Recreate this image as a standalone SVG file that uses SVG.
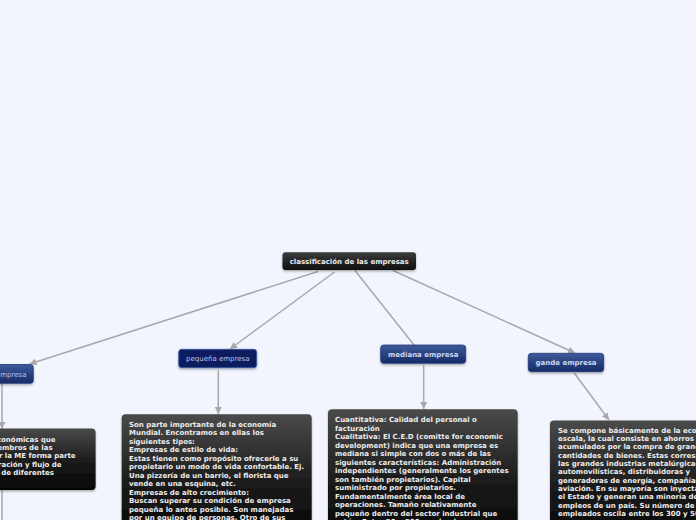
<svg xmlns="http://www.w3.org/2000/svg" width="696" height="520" viewBox="0 0 696 520">
<defs>
<linearGradient id="gDark" x1="0" y1="0" x2="0" y2="1">
<stop offset="0" stop-color="#4a4a4a"/>
<stop offset="0.55" stop-color="#1a1a1a"/>
<stop offset="1" stop-color="#050505"/>
</linearGradient>
<linearGradient id="gRoot" x1="0" y1="0" x2="0" y2="1">
<stop offset="0" stop-color="#3c3c3c"/>
<stop offset="1" stop-color="#0e0e0e"/>
</linearGradient>
<linearGradient id="gBlue" x1="0" y1="0" x2="0" y2="1">
<stop offset="0" stop-color="#3d5b9b"/>
<stop offset="1" stop-color="#172a66"/>
</linearGradient>
<marker id="arr" viewBox="0 0 10 10" refX="10" refY="5" markerWidth="7" markerHeight="7" markerUnits="userSpaceOnUse" orient="auto">
<path d="M0,0 L10,5 L0,10 z" fill="#a8a8a8"/>
</marker>
<filter id="sh" x="-10%" y="-10%" width="120%" height="140%">
<feDropShadow dx="0" dy="1.5" stdDeviation="1" flood-color="#000" flood-opacity="0.3"/>
</filter>
</defs>
<style>
.ln{stroke:#a8a8a8;stroke-width:1.5;fill:none}
.t{font-family:"DejaVu Sans","Verdana",sans-serif;font-size:7px;font-weight:bold;fill:#ececec}
.tb{font-family:"DejaVu Sans","Verdana",sans-serif;font-size:7px;font-weight:bold;fill:#cdd8ef;text-anchor:middle}
.tn{font-family:"DejaVu Sans","Verdana",sans-serif;font-size:7px;fill:#b4c3e8;text-anchor:middle}
.dark{fill:url(#gDark);filter:url(#sh)}
.blue{fill:url(#gBlue);stroke:#22387a;stroke-width:0.8;filter:url(#sh)}
</style>
<rect width="696" height="520" fill="#f2f5fd"/>
<g id="connectors">
<line class="ln" x1="318" y1="271.5" x2="29.5" y2="364" marker-end="url(#arr)"/>
<line class="ln" x1="334.5" y1="272" x2="230" y2="349" marker-end="url(#arr)"/>
<line class="ln" x1="355" y1="270.5" x2="414" y2="345"/>
<line class="ln" x1="393" y1="270.5" x2="575" y2="353" marker-end="url(#arr)"/>
<line class="ln" x1="2" y1="383.5" x2="2" y2="429" marker-end="url(#arr)"/>
<line class="ln" x1="2" y1="490" x2="2" y2="520"/>
<line class="ln" x1="218.3" y1="370.5" x2="218.3" y2="414" marker-end="url(#arr)"/>
<line class="ln" x1="423.7" y1="365" x2="423.7" y2="409" marker-end="url(#arr)"/>
<line class="ln" x1="574.3" y1="373" x2="609" y2="420" marker-end="url(#arr)"/>
</g>
<g id="root">
<rect x="282.5" y="252.3" width="133.5" height="17.8" rx="3" fill="url(#gRoot)" filter="url(#sh)"/>
<text class="t" x="349.2" y="263.6" text-anchor="middle">classificación de las empresas</text>
</g>
<g id="micro">
<rect class="blue" x="-60" y="364.5" width="93.3" height="18.8" rx="3"/>
<text class="tn" x="26.5" y="376.5" text-anchor="end" style="text-anchor:end">micro empresa</text>
</g>
<g id="pequena">
<rect x="178.7" y="349.3" width="78" height="18.4" rx="3" fill="#0d1f5e" stroke="#3a5aa8" stroke-width="0.8" filter="url(#sh)"/>
<text class="tn" x="217.8" y="361">pequeña empresa</text>
</g>
<g id="mediana">
<rect class="blue" x="380.7" y="345" width="85" height="18.3" rx="3"/>
<text class="tb" x="423.2" y="356.8">mediana empresa</text>
</g>
<g id="gande">
<rect class="blue" x="528.3" y="353.3" width="75.4" height="18.4" rx="3"/>
<text class="tb" x="566" y="365.2">gande empresa</text>
</g>
<g id="micro-desc">
<rect class="dark" x="-80" y="428.5" width="175.6" height="61.5" rx="4"/>
<text class="t" text-anchor="end">
<tspan x="58" y="441.6">conómicas que</tspan>
<tspan x="55" y="449.9">embros de las</tspan>
<tspan x="78" y="458.2">or la ME forma parte</tspan>
<tspan x="64" y="466.5">eración y flujo de</tspan>
<tspan x="54" y="474.8">de diferentes</tspan>
</text>
</g>
<g id="pequena-desc">
<rect class="dark" x="121.7" y="414.3" width="190" height="130" rx="4"/>
<text class="t">
<tspan x="129" y="427">Son parte importante de la economía</tspan>
<tspan x="129" y="435.45">Mundial. Encontramos en ellas los</tspan>
<tspan x="129" y="443.9">siguientes tipos:</tspan>
<tspan x="129" y="452.35">Empresas de estilo de vida:</tspan>
<tspan x="129" y="460.8">Estas tienen como propósito ofrecerle a su</tspan>
<tspan x="129" y="469.25">propietario un modo de vida confortable. Ej.</tspan>
<tspan x="129" y="477.7">Una pizzería de un barrio, el florista que</tspan>
<tspan x="129" y="486.15">vende en una esquina, etc.</tspan>
<tspan x="129" y="494.6">Empresas de alto crecimiento:</tspan>
<tspan x="129" y="503.05">Buscan superar su condición de empresa</tspan>
<tspan x="129" y="511.5">pequeña lo antes posible. Son manejadas</tspan>
<tspan x="129" y="519.95">por un equipo de personas. Otro de sus</tspan>
</text>
</g>
<g id="mediana-desc">
<rect class="dark" x="328" y="409.3" width="189.7" height="135" rx="4"/>
<text class="t">
<tspan x="335" y="422">Cuantitativa: Calidad del personal o</tspan>
<tspan x="335" y="430.5">facturación</tspan>
<tspan x="335" y="439">Cualitativa: El C.E.D (comitte for economic</tspan>
<tspan x="335" y="447.5">development) indica que una empresa es</tspan>
<tspan x="335" y="456">mediana si simple con dos o más de las</tspan>
<tspan x="335" y="464.5">siguientes características: Administración</tspan>
<tspan x="335" y="473">independientes (generalmente los gerentes</tspan>
<tspan x="335" y="481.5">son también propietarios). Capital</tspan>
<tspan x="335" y="490">suministrado por propietarios.</tspan>
<tspan x="335" y="498.5">Fundamentalmente área local de</tspan>
<tspan x="335" y="507">operaciones. Tamaño relativamente</tspan>
<tspan x="335" y="515.5">pequeño dentro del sector industrial que</tspan>
<tspan x="335" y="524">actúa. Entre 50 y 500 empleados.</tspan>
</text>
</g>
<g id="gande-desc">
<rect class="dark" x="550" y="420.5" width="200" height="125" rx="4"/>
<text class="t">
<tspan x="558" y="432.6">Se compone básicamente de la economía</tspan>
<tspan x="558" y="440.93">escala, la cual consiste en ahorros</tspan>
<tspan x="558" y="449.26">acumulados por la compra de grandes</tspan>
<tspan x="558" y="457.59">cantidades de bienes. Estas corresponden</tspan>
<tspan x="558" y="465.92">las grandes industrias metalúrgicas,</tspan>
<tspan x="558" y="474.25">automovilísticas, distribuidoras y</tspan>
<tspan x="558" y="482.58">generadoras de energía, compañías</tspan>
<tspan x="558" y="490.91">aviación. En su mayoría son inyectadas</tspan>
<tspan x="558" y="499.24">el Estado y generan una minoría de</tspan>
<tspan x="558" y="507.57">empleos de un país. Su número de</tspan>
<tspan x="558" y="515.9">empleados oscila entre los 300 y 500</tspan>
</text>
</g>
</svg>
